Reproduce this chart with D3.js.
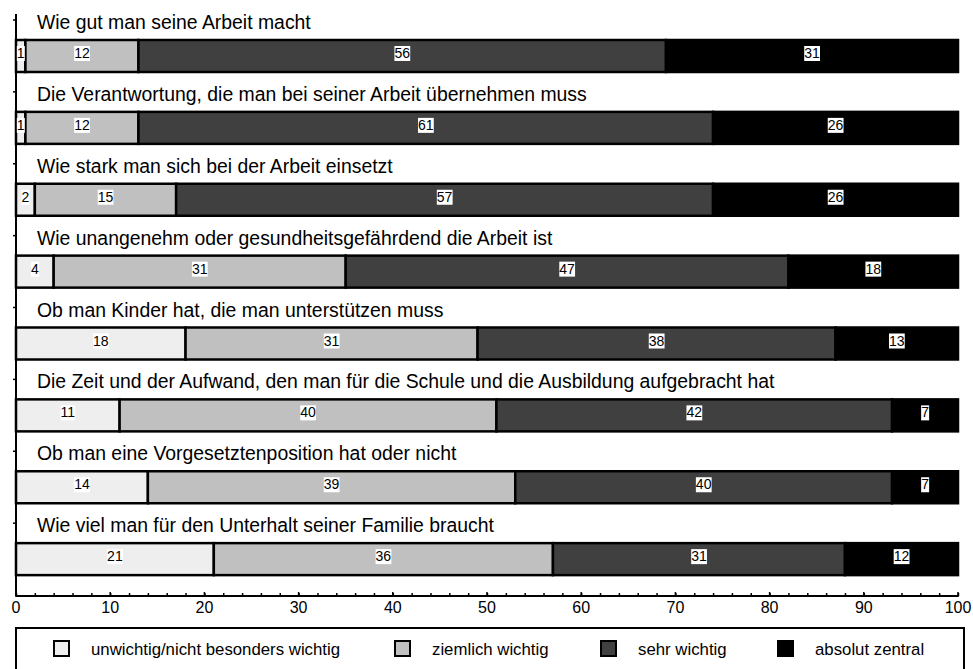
<!DOCTYPE html>
<html lang="de">
  <head>
    <meta charset="UTF-8" />
    <title>Wichtigkeit von Kriterien</title>
    <script src="https://d3js.org/d3.v7.min.js"></script>
    <style>
      body { margin: 0; background: #fff; }
      svg { display: block; font-family: "Liberation Sans", Arial, sans-serif; }
    </style>
  </head>
  <body>
    <svg id="chart" width="973" height="669"></svg>
    <script>
      const categories = [
        "Wie gut man seine Arbeit macht",
        "Die Verantwortung, die man bei seiner Arbeit übernehmen muss",
        "Wie stark man sich bei der Arbeit einsetzt",
        "Wie unangenehm oder gesundheitsgefährdend die Arbeit ist",
        "Ob man Kinder hat, die man unterstützen muss",
        "Die Zeit und der Aufwand, den man für die Schule und die Ausbildung aufgebracht hat",
        "Ob man eine Vorgesetztenposition hat oder nicht",
        "Wie viel man für den Unterhalt seiner Familie braucht"
      ];
      const seriesNames = ["unwichtig/nicht besonders wichtig", "ziemlich wichtig", "sehr wichtig", "absolut zentral"];
      const unwichtig = [1, 1, 2, 4, 18, 11, 14, 21];
      const ziemlich = [12, 12, 15, 31, 31, 40, 39, 36];
      const sehr = [56, 61, 57, 47, 38, 42, 40, 31];
      const zentral = [31, 26, 26, 18, 13, 7, 7, 12];
      const xTicks = [0, 10, 20, 30, 40, 50, 60, 70, 80, 90, 100];

      const colors = ["#eeeeee", "#c0c0c0", "#404040", "#000000"];
      const keys = ["k0", "k1", "k2", "k3"];

      const rows = categories.map((c, i) => ({
        cat: c, k0: unwichtig[i], k1: ziemlich[i], k2: sehr[i], k3: zentral[i]
      }));

      const svg = d3.select("#chart");
      const left = 16, right = 958;

      const x = d3.scaleLinear().domain([0, 100]).range([left, right]);
      const y = d3.scaleBand().domain(categories).range([18, 593]);

      const stack = d3.stack().keys(keys)(rows);

      // left axis line with ticks at band starts
      svg.append("line")
        .attr("x1", left).attr("x2", left)
        .attr("y1", 14).attr("y2", 596)
        .attr("stroke", "#000").attr("stroke-width", 2);
      svg.selectAll(".lt").data(categories).enter().append("line")
        .attr("x1", left - 3).attr("x2", left)
        .attr("y1", d => y(d) + 2).attr("y2", d => y(d) + 2)
        .attr("stroke", "#000").attr("stroke-width", 1.5);

      // titles
      svg.selectAll(".title").data(categories).enter().append("text")
        .attr("x", 37)
        .attr("y", d => y(d) + 11)
        .attr("font-size", 19.4)
        .attr("fill", "#000")
        .text(d => d);

      const barTop = d => y(d) + 22;
      const barH = 32;

      const groups = svg.selectAll(".series").data(stack).enter().append("g")
        .attr("fill", (d, i) => colors[i]);

      groups.selectAll("rect").data(d => d).enter().append("rect")
        .attr("x", d => x(d[0]))
        .attr("y", d => barTop(d.data.cat))
        .attr("width", d => x(d[1]) - x(d[0]))
        .attr("height", barH)
        .attr("stroke", "#000")
        .attr("stroke-width", 2.5);

      // value labels with white boxes
      stack.forEach(s => {
        s.forEach(d => {
          const v = d[1] - d[0];
          const cx = (x(d[0]) + x(d[1])) / 2;
          const cy = barTop(d.data.cat) + barH / 2 - 3;
          const t = svg.append("text")
            .attr("x", cx).attr("y", cy)
            .attr("text-anchor", "middle")
            .attr("dominant-baseline", "central")
            .attr("font-size", 14)
            .attr("fill", "#000")
            .text(v);
          const bb = t.node().getBBox();
          svg.insert("rect", () => t.node())
            .attr("x", bb.x).attr("y", bb.y + 1)
            .attr("width", bb.width).attr("height", bb.height - 1)
            .attr("fill", "#fff");
        });
      });

      // x axis
      const axisY = 596;
      const xAxis = d3.axisTop(x).tickValues(d3.range(0, 101, 2)).tickSize(3).tickFormat("");
      svg.append("g").attr("transform", `translate(0,${axisY})`).call(xAxis)
        .call(g => g.select(".domain").attr("stroke-width", 2).attr("d", `M${left},0H${right}`))
        .call(g => g.selectAll(".tick line").attr("stroke-width", 1.5));
      const major = svg.append("g").attr("transform", `translate(0,${axisY})`);
      major.selectAll("line").data(xTicks).enter().append("line")
        .attr("x1", d => x(d)).attr("x2", d => x(d))
        .attr("y1", -4).attr("y2", 1)
        .attr("stroke", "#000").attr("stroke-width", 1.5);
      major.selectAll("text").data(xTicks).enter().append("text")
        .attr("x", d => x(d)).attr("y", 17)
        .attr("text-anchor", "middle")
        .attr("font-size", 16)
        .text(d => d);

      // legend
      svg.append("rect")
        .attr("x", 16).attr("y", 628)
        .attr("width", 948).attr("height", 60)
        .attr("fill", "none").attr("stroke", "#000").attr("stroke-width", 2);
      const legX = [54, 395, 601, 778];
      const leg = svg.selectAll(".leg").data(seriesNames).enter().append("g")
        .attr("transform", (d, i) => `translate(${legX[i]},641)`);
      leg.append("rect")
        .attr("width", 15).attr("height", 15)
        .attr("fill", (d, i) => colors[i])
        .attr("stroke", "#000").attr("stroke-width", 2);
      leg.append("text")
        .attr("x", 37).attr("y", 8)
        .attr("dominant-baseline", "central")
        .attr("font-size", 16.8)
        .text(d => d);
    </script>
  </body>
</html>
